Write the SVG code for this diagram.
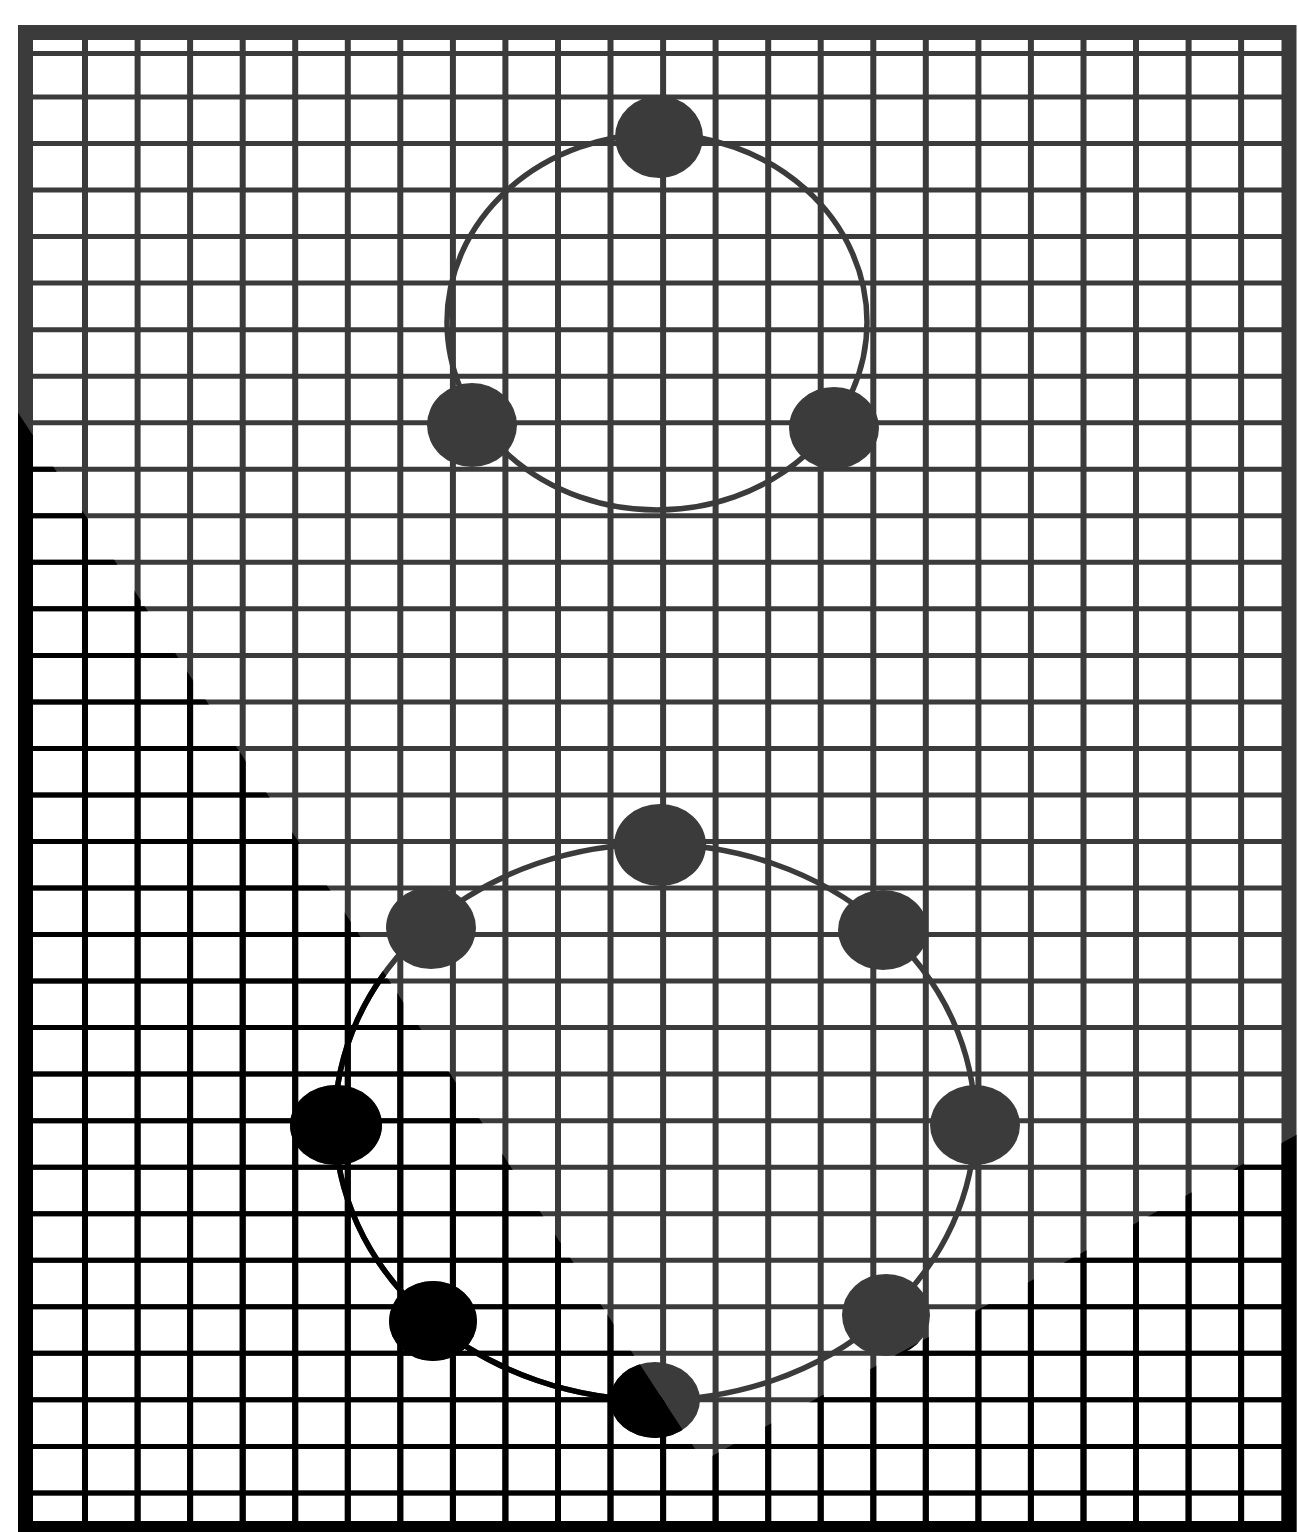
<svg xmlns="http://www.w3.org/2000/svg" xmlns:xlink="http://www.w3.org/1999/xlink" width="1298" height="1532" viewBox="0 0 1298 1532">
  <style>
    .grid { stroke: var(--ink, #3b3b3b); fill: none; }
    .hl { stroke-width: 5; }
    .vl { stroke-width: 6; }
    .frame { stroke: var(--ink, #3b3b3b); stroke-width: 15; fill: none; }
    .ring { stroke: var(--ink, #3b3b3b); stroke-width: 5.5; fill: none; }
    .bead { fill: var(--ink, #3b3b3b); stroke: none; }
  </style>
  <defs>
    <clipPath id="darkzone">
      <polygon points="0,385 703,1461 1298,1134 1298,1532 0,1532"/>
    </clipPath>
  </defs>
  <rect x="0" y="0" width="1298" height="1532" fill="#ffffff"/>
  <g id="scene">
    <g id="grid">
      <path class="grid hl" d="M33 53.5H1282 M33 97H1282 M33 143.5H1282 M33 190.1H1282 M33 236.6H1282 M33 283.1H1282 M33 329.7H1282 M33 376.2H1282 M33 422.7H1282 M33 469.2H1282 M33 515.8H1282 M33 562.3H1282 M33 608.8H1282 M33 655.4H1282 M33 701.9H1282 M33 748.4H1282 M33 795H1282 M33 841.5H1282 M33 888H1282 M33 934.5H1282 M33 981.1H1282 M33 1027.6H1282 M33 1074.1H1282 M33 1120.7H1282 M33 1167.2H1282 M33 1213.7H1282 M33 1260.3H1282 M33 1306.8H1282 M33 1353.3H1282 M33 1399.8H1282 M33 1446.4H1282 M33 1492.9H1282"/>
      <path class="grid vl" d="M85 40V1521 M137.6 40V1521 M190.1 40V1521 M242.7 40V1521 M295.2 40V1521 M347.8 40V1521 M400.3 40V1521 M452.9 40V1521 M505.4 40V1521 M558 40V1521 M610.5 40V1521 M663.1 40V1521 M715.6 40V1521 M768.2 40V1521 M820.7 40V1521 M873.3 40V1521 M925.8 40V1521 M978.4 40V1521 M1030.9 40V1521 M1083.5 40V1521 M1136 40V1521 M1188.6 40V1521 M1241.1 40V1521"/>
      <rect class="frame" x="25.5" y="32.5" width="1263.5" height="1496"/>
    </g>
    <g id="connectors">
      <ellipse id="ring-upper" class="ring" cx="657" cy="322" rx="210" ry="188"/>
      <ellipse id="ring-lower" class="ring" cx="655" cy="1122" rx="320" ry="278"/>
    </g>
    <g id="upper-top"><ellipse class="bead" cx="659" cy="137" rx="44" ry="41"/></g>
    <g id="upper-left"><ellipse class="bead" cx="472" cy="425" rx="45" ry="42"/></g>
    <g id="upper-right"><ellipse class="bead" cx="834" cy="428" rx="45" ry="41"/></g>
    <g id="lower-top"><ellipse class="bead" cx="660" cy="845" rx="46" ry="41"/></g>
    <g id="lower-upper-left"><ellipse class="bead" cx="431" cy="928" rx="45" ry="41"/></g>
    <g id="lower-upper-right"><ellipse class="bead" cx="883" cy="930" rx="45" ry="40"/></g>
    <g id="lower-left"><ellipse class="bead" cx="336" cy="1125" rx="46" ry="40"/></g>
    <g id="lower-right"><ellipse class="bead" cx="975" cy="1125" rx="45" ry="40"/></g>
    <g id="lower-lower-left"><ellipse class="bead" cx="433" cy="1321" rx="44" ry="40"/></g>
    <g id="lower-lower-right"><ellipse class="bead" cx="886" cy="1315" rx="44" ry="41"/></g>
    <g id="lower-bottom"><ellipse class="bead" cx="655" cy="1400" rx="45" ry="38"/></g>
  </g>
  <use xlink:href="#scene" href="#scene" clip-path="url(#darkzone)" style="--ink:#000000"/>
</svg>
